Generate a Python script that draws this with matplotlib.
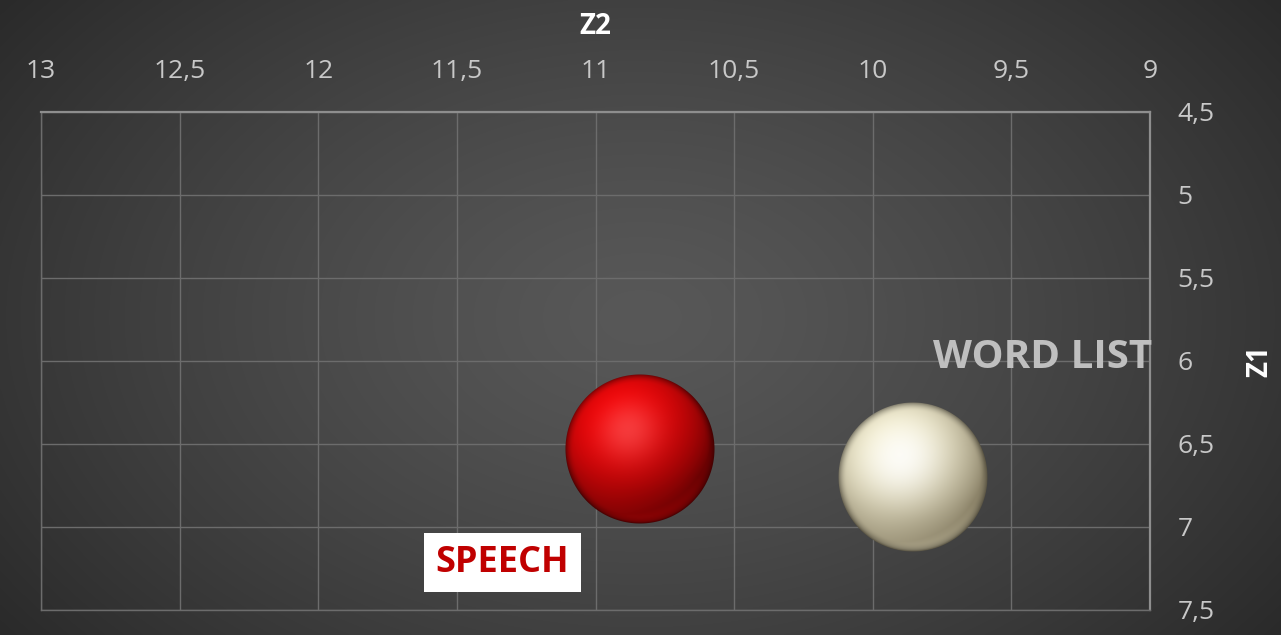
import matplotlib
matplotlib.use("Agg")
import matplotlib.pyplot as plt
import numpy as np
from matplotlib.offsetbox import OffsetImage, AnnotationBbox
from matplotlib.ticker import FuncFormatter, MultipleLocator

plt.rcParams['font.family'] = ['Open Sans', 'DejaVu Sans']

# group positions (Z2, Z1)
groups = ['SPEECH', 'WORD LIST']
z2 = [10.84, 9.855]
z1 = [6.53, 6.70]

x_lim = (13, 9)
y_lim = (7.5, 4.5)

DPI = 100
BALL_PX = 150


def sphere(base, rim, spec_col, n=300, light=(-0.3, 0.5, 0.81), shin=18, spec_k=0.55, amb=0.35):
    u = np.linspace(-1, 1, n)
    X, Y = np.meshgrid(u, u)
    r = np.sqrt(X ** 2 + Y ** 2)
    Z = np.sqrt(np.clip(1 - r ** 2, 0, 1))
    L = np.array(light) / np.linalg.norm(light)
    # image rows go downward, so flip y for the normal
    dot = np.clip(X * L[0] - Y * L[1] + Z * L[2], 0, 1)
    H = L + np.array([0, 0, 1.0])
    H = H / np.linalg.norm(H)
    spec = np.clip(X * H[0] - Y * H[1] + Z * H[2], 0, 1) ** shin
    base = np.array(base)
    rim = np.array(rim)
    shade = amb + (1 - amb) * dot
    col = rim[None, None, :] * (1 - shade[..., None]) + base[None, None, :] * shade[..., None]
    # soft reflected light along the lower edge
    bounce = np.clip((Y - 0.35) / 0.6, 0, 1) * np.clip((r - 0.55) / 0.4, 0, 1) * (1 - np.clip((r - 0.97) / 0.03, 0, 1))
    col = col + 0.25 * bounce[..., None] * (base[None, None, :] - col)
    col = col + spec_k * spec[..., None] * (np.array(spec_col)[None, None, :] - col)
    # darker fringe right at the silhouette
    edge = np.clip((r - 0.88) / 0.12, 0, 1) ** 2
    col = col * (1 - 0.4 * edge[..., None])
    alpha = np.clip((1 - r) * n / 2, 0, 1)
    return np.dstack([np.clip(col, 0, 1), alpha])


fig = plt.figure(figsize=(12.81, 6.35), dpi=DPI)

# radial background
bg = fig.add_axes([0, 0, 1, 1], zorder=-10)
gx, gy = np.meshgrid(np.linspace(-1, 1, 640), np.linspace(-1, 1, 320))
d = np.sqrt((gx * 1.0) ** 2 + (gy * 0.75) ** 2) / np.sqrt(1 + 0.75 ** 2)
lum = 0.345 - 0.18 * d ** 1.3
bg.imshow(np.dstack([lum, lum, lum]), aspect='auto', extent=[0, 1, 0, 1], interpolation='bilinear')
bg.set_axis_off()

ax = fig.add_axes([41 / 1281, 1 - 610 / 635, (1150 - 41) / 1281, (610 - 112) / 635])
ax.set_facecolor('none')
ax.set_xlim(*x_lim)
ax.set_ylim(*y_lim)
ax.xaxis.set_major_locator(MultipleLocator(0.5))
ax.yaxis.set_major_locator(MultipleLocator(0.5))
fmt = FuncFormatter(lambda v, p: f"{v:g}".replace('.', ','))
ax.xaxis.set_major_formatter(fmt)
ax.yaxis.set_major_formatter(fmt)
ax.xaxis.tick_top()
ax.xaxis.set_label_position('top')
ax.yaxis.tick_right()
ax.yaxis.set_label_position('right')
ax.tick_params(length=0, labelsize=19, colors='#c8c8c8')
ax.tick_params(axis='x', pad=20)
ax.tick_params(axis='y', pad=20)
ax.grid(True, color='#6c6c6c', lw=1)
for s in ['top', 'right']:
    ax.spines[s].set_color('#8e8e8e')
    ax.spines[s].set_linewidth(1.6)
for s in ['left', 'bottom']:
    ax.spines[s].set_color('#6c6c6c')
    ax.spines[s].set_linewidth(1)

ax.set_xlabel('Z2', fontsize=20, fontweight='bold', color='white', labelpad=18)
ax.set_ylabel('Z1', fontsize=20, fontweight='bold', color='white', labelpad=22, rotation=90)

red_ball = sphere(base=(0.95, 0.03, 0.04), rim=(0.25, 0.0, 0.0), spec_col=(1.0, 0.42, 0.42),
                  shin=12, spec_k=0.5, amb=0.25)
cream_ball = sphere(base=(0.96, 0.94, 0.83), rim=(0.38, 0.34, 0.24), spec_col=(1.0, 1.0, 1.0),
                    shin=8, spec_k=0.8, amb=0.3)

n = red_ball.shape[0]
zoom = BALL_PX / n * 72 / DPI
for img, x, y in zip([red_ball, cream_ball], z2, z1):
    ab = AnnotationBbox(OffsetImage(img, zoom=zoom), (x, y), frameon=False, zorder=5)
    ax.add_artist(ab)

ax.annotate(groups[0], (z2[0], z1[0]), xytext=(-99, -82), textcoords='offset points',
            ha='center', va='center', fontsize=26, fontweight='bold', color='#c00000',
            bbox=dict(boxstyle='square,pad=0.32', fc='white', ec='none'), zorder=6)
ax.annotate(groups[1], (z2[1], z1[1]), xytext=(93, 86), textcoords='offset points',
            ha='center', va='center', fontsize=29, fontweight='bold', color='#bfbfbf', zorder=6)

fig.savefig('out.png', dpi=DPI)
